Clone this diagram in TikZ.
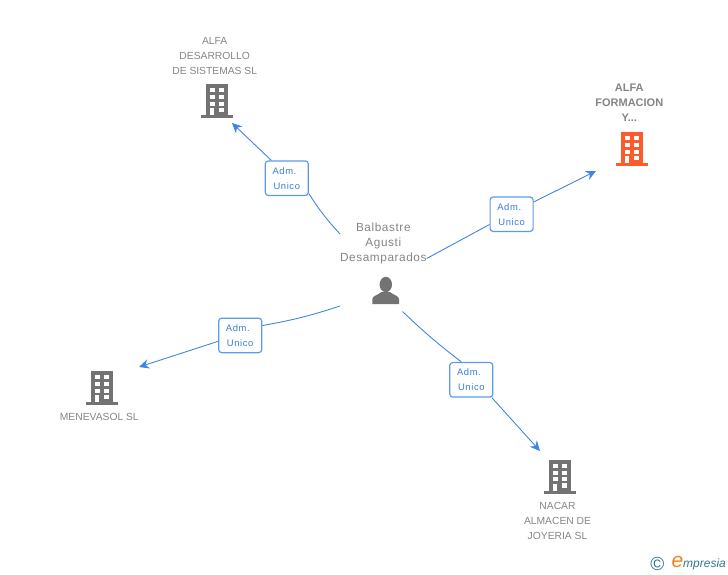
\documentclass[tikz,border=0pt]{standalone}
\usepackage{fontspec}
\setmainfont{Liberation Sans}
\newfontfamily\spacedfont[LetterSpace=5]{Liberation Sans}
\newfontfamily\admfont[LetterSpace=6.5]{Liberation Sans}
\usetikzlibrary{arrows.meta}
\definecolor{icongray}{HTML}{737373}
\definecolor{textgray}{HTML}{858585}
\definecolor{iconred}{HTML}{FF5A2B}
\definecolor{linkblue}{HTML}{3F86E3}
\definecolor{boxblue}{HTML}{5C9BEA}
\definecolor{admblue}{HTML}{3A7CDB}
\definecolor{logoteal}{HTML}{33788F}
\definecolor{logoorange}{HTML}{F5821F}
\tikzset{
	company/.style={text=textgray,align=center,inner sep=0pt,font=\fontsize{10.3}{15}\selectfont},
	person/.style={text=textgray,align=center,inner sep=0pt,font=\spacedfont\fontsize{11.8}{15}\selectfont},
	admbox/.style={draw=boxblue,fill=white,line width=1.2pt,rounded corners=3pt,minimum width=43pt,minimum height=34.5pt,inner sep=0pt,text=admblue,align=left,font=\admfont\fontsize{9.4}{15}\selectfont},
	link/.style={draw=linkblue,line width=0.9pt},
	linkarrow/.style={link,-{Stealth[length=10pt,width=9.5pt]}},
	pics/building/.style={code={
		\fill[#1] (-11,-34) rectangle (11,-3);
		\fill[#1] (-16,-3) rectangle (16,0);
		\foreach \rowy in {-29.7,-23,-16.3} {
			\fill[white] (-7,\rowy) rectangle (-2.3,\rowy+4);
			\fill[white] (2.3,\rowy) rectangle (7.3,\rowy+4);
		}
		\fill[white] (-6.7,-9.7) rectangle (-2.7,-3);
		\fill[white] (2.3,-10.3) rectangle (7.3,-5.7);
	}}
}
\begin{document}
\begin{tikzpicture}[x=1pt,y=-1pt]
	\useasboundingbox (0,0) rectangle (728,575);
	% companies
	\node[company] (alfades) at (214.7,56) {ALFA\\DESARROLLO\\DE SISTEMAS SL};
	\pic at (217,118) {building=icongray};
	\node[company,font=\fontsize{11}{15}\selectfont\bfseries] (alfafor) at (629.3,102.5) {ALFA\\FORMACION\\Y...};
	\pic at (632,166) {building=iconred};
	\node[company] (menevasol) at (99.3,417) {MENEVASOL SL};
	\pic at (102,405) {building=icongray};
	\node[company] (nacar) at (557.5,521) {NACAR\\ALMACEN DE\\JOYERIA SL};
	\pic at (560,493.5) {building=icongray};
	% person
	\node[person] (balbastre) at (383.3,243) {Balbastre\\Agusti\\Desamparados};
	\fill[icongray] (385.8,284.5) ellipse (6.2 and 7.7);
	\fill[icongray] (372.3,304) -- (372.3,299) .. controls (372.3,296) and (378,295) .. (381.5,292) -- (390,292) .. controls (393.5,295) and (399,296) .. (399,299) -- (399,304) -- cycle;
	% labels on the links
	\node[admbox] (admA) at (286.8,178.2) {\hspace{-1pt}Adm.\\Unico};
	\node[admbox] (admB) at (511.6,214.2) {\hspace{-1pt}Adm.\\Unico};
	\node[admbox] (admC) at (240.2,335.4) {\hspace{-1pt}Adm.\\Unico};
	\node[admbox] (admD) at (471.3,379.8) {\hspace{-1pt}Adm.\\Unico};
	% free ends of the links
	\coordinate (startA) at (340,234);
	\coordinate (startB) at (426.7,258.5);
	\coordinate (startC) at (340,306);
	\coordinate (startD) at (402.5,311.5);
	\coordinate (tipA) at (232,123);
	\coordinate (tipB) at (596,171);
	\coordinate (tipC) at (139,367);
	\coordinate (tipD) at (540,451);
	% links
	\draw[link] (startA) to[bend left=5] (admA.-35);
	\draw[linkarrow] (admA.131) -- (tipA);
	\draw[link] (startB) -- (admB.205);
	\draw[linkarrow] (admB.29) -- (tipB);
	\draw[link] (startC) to[bend left=4] (admC.24);
	\draw[linkarrow] (admC.195) -- (tipC);
	\draw[link] (startD) to[bend right=3] (admD.119);
	\draw[linkarrow] (admD.-41) -- (tipD);
	% logo
	\node[text=logoteal,inner sep=0pt,font=\fontsize{19}{19}\selectfont] (copyr) at (657.3,564) {©};
	\node[text=logoorange,inner sep=0pt,font=\itshape\fontsize{21}{21}\selectfont] (logoe) at (677.5,562) {e};
	\node[text=logoteal,inner sep=0pt,anchor=west,font=\itshape\fontsize{12}{13}\selectfont] (logotxt) at (683,564) {mpresia};
\end{tikzpicture}
\end{document}
